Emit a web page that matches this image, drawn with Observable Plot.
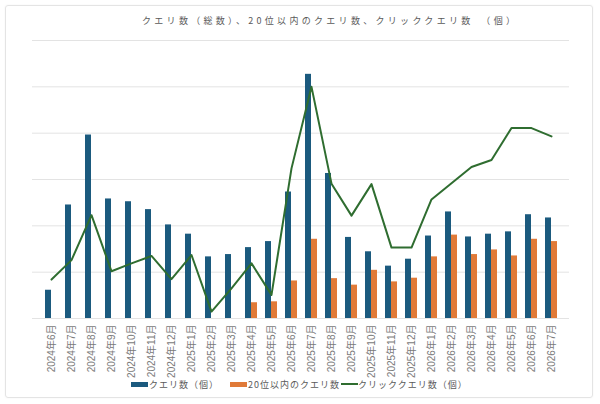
<!DOCTYPE html>
<html><head><meta charset="utf-8">
<script src="https://cdn.jsdelivr.net/npm/d3@7"></script>
<script src="https://cdn.jsdelivr.net/npm/@observablehq/plot@0.6"></script>
<style>
html,body{margin:0;padding:0;background:#fff;}
#wrap{position:relative;width:600px;height:404px;font-family:"Noto Sans CJK JP","Noto Sans",sans-serif;}
#card{position:absolute;left:5px;top:5px;width:586px;height:391px;border:1px solid #e4e4e4;border-radius:3px;box-shadow:0 0 2px rgba(0,0,0,0.06);}
#title{position:absolute;left:142px;top:14px;font-size:9px;line-height:14px;letter-spacing:3.3px;color:#5a5a5a;white-space:nowrap;}
#legend{position:absolute;top:376px;left:0;width:600px;height:16px;font-size:9px;letter-spacing:1px;color:#5a5a5a;}
#legend .sw{display:inline-block;width:17px;height:5px;margin-right:1px;}
#legend .ln{display:inline-block;width:17px;height:2px;margin-right:0px;}
#legend .it{position:absolute;top:0;display:flex;align-items:center;white-space:nowrap;height:16px;}
#chart{position:absolute;left:0;top:0;}
</style></head>
<body><div id="wrap"><div id="card"></div><div id="title"></div><div id="chart"></div><div id="legend"></div></div>
<script>
const months = ["2024年6月","2024年7月","2024年8月","2024年9月","2024年10月","2024年11月","2024年12月",
"2025年1月","2025年2月","2025年3月","2025年4月","2025年5月","2025年6月","2025年7月","2025年8月","2025年9月","2025年10月","2025年11月","2025年12月",
"2026年1月","2026年2月","2026年3月","2026年4月","2026年5月","2026年6月","2026年7月"];
const queries = [61,245,396,258,252,235,202,182,133,138,153,166,273,527,313,175,144,113,128,178,230,176,182,187,224,217];
const top20 = [null,null,null,null,null,null,null,null,null,null,34,36,81,171,86,72,104,79,87,133,180,138,148,135,171,166];
const clicks = [84,126,223,102,119,135,85,137,15,65,119,51,324,500,291,222,290,153,153,257,292,327,342,411,411,393];
const gridTicks = [0,100,200,300,400,500,600];
const titleText = "クエリ数（総数）、20位以内のクエリ数、クリッククエリ数　（個）";
const seriesNames = ["クエリ数（個）","20位以内のクエリ数","クリッククエリ数（個）"];
const colors = ["#1b5a7e","#e07a38","#2f6d30"];

const rows = months.map((m,i)=>({month:m, q:queries[i], t:top20[i], c:clicks[i]}));

document.getElementById("title").textContent = titleText;

const chart = Plot.plot({
  width:600, height:404,
  marginLeft:32, marginRight:31, marginTop:40, marginBottom:86,
  style:{fontFamily:"'Liberation Sans','Noto Sans CJK JP',sans-serif", background:"transparent"},
  x:{domain:months, paddingInner:0.42, paddingOuter:0.21, label:null, axis:null},
  y:{domain:[0,600], axis:null},
  marks:[
    Plot.ruleY(gridTicks,{stroke:"#e3e3e3", strokeWidth:1}),
    Plot.barY(rows,{x:"month", y:"q", fill:colors[0], insetRight:6}),
    Plot.barY(rows.filter(d=>d.t!=null),{x:"month", y:"t", fill:colors[1], insetLeft:6}),
    Plot.line(rows,{x:"month", y:"c", stroke:colors[2], strokeWidth:2}),
    Plot.axisX({tickSize:0, tickRotate:-90, tickPadding:6, fontSize:10, fill:"#7a7a7a", label:null})
  ]
});
document.getElementById("chart").appendChild(chart);

const legendX = [131, 230, 341];
const leg = document.getElementById("legend");
seriesNames.forEach((n,i)=>{
  const it = document.createElement("span"); it.className="it"; it.style.left = legendX[i]+"px";
  const sw = document.createElement("span"); sw.className = i<2 ? "sw":"ln"; sw.style.background = colors[i];
  it.appendChild(sw); it.appendChild(document.createTextNode(n)); leg.appendChild(it);
});
</script></body></html>
